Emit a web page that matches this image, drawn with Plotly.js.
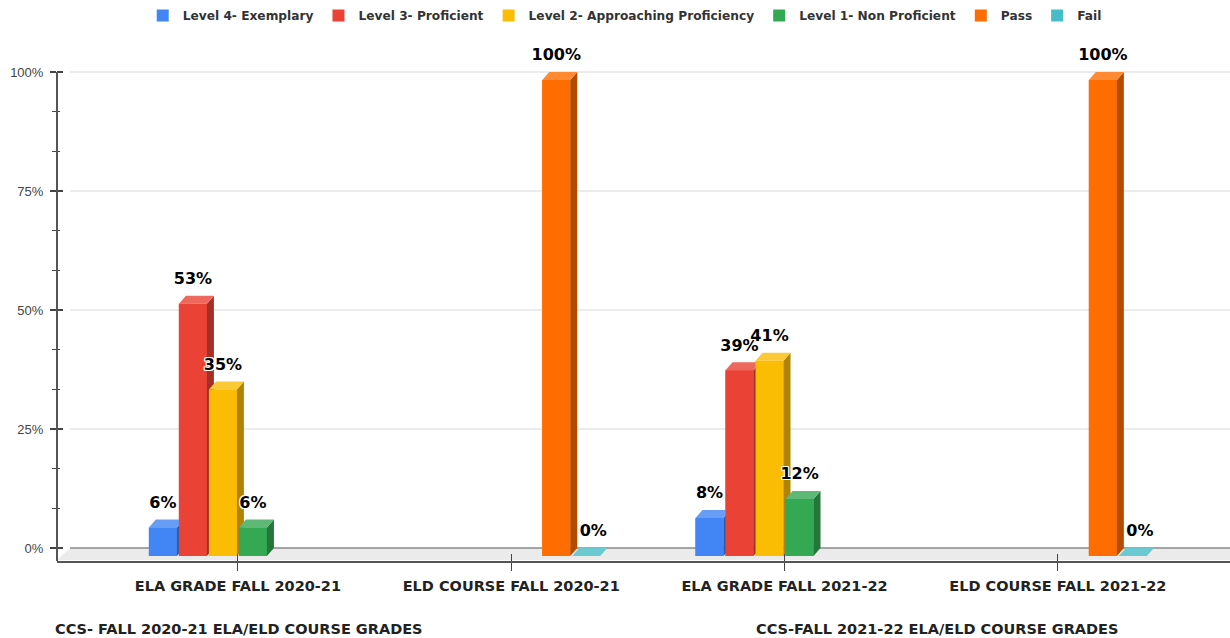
<!DOCTYPE html>
<html>
<head>
<meta charset="utf-8">
<script src="https://cdn.plot.ly/plotly-3.0.1.min.js"></script>
<style>html,body{margin:0;padding:0;background:#fff;}#chart{width:1230px;height:638px;}</style>
</head>
<body>
<div id="chart"></div>
<script>
// ---- data ----
const categories = ["ELA GRADE FALL 2020-21", "ELD COURSE FALL 2020-21", "ELA GRADE FALL 2021-22", "ELD COURSE FALL 2021-22"];
const seriesNames = ["Level 4- Exemplary", "Level 3- Proficient", "Level 2- Approaching Proficiency", "Level 1- Non Proficient", "Pass", "Fail"];
const level4 = [6, null, 8, null];
const level3 = [53, null, 39, null];
const level2 = [35, null, 41, null];
const level1 = [6, null, 12, null];
const pass = [null, 100, null, 100];
const fail = [null, 0, null, 0];
const yTicks = [0, 25, 50, 75, 100];
const footnotes = ["CCS- FALL 2020-21 ELA/ELD COURSE GRADES", "CCS-FALL 2021-22 ELA/ELD COURSE GRADES"];

const seriesValues = [level4, level3, level2, level1, pass, fail];
const frontColors = ['#4285F4', '#EA4335', '#FBBC04', '#34A853', '#FF6D01', '#46BDC6'];
const topColors = ['#689df6', '#ee695d', '#fcc936', '#5db975', '#ff8a34', '#6bcad1'];
const sideColors = ['#2e5dab', '#a42f25', '#b08403', '#24763a', '#b34c01', '#31848b'];

// ---- geometry of bars (shared with layout) ----
const bargap = 0.341, bargroupgap = 0.067;
const nS = seriesValues.length;
const groupW = 1 - bargap;
const slot = groupW / nS;
const frontW = slot * (1 - bargroupgap);
const dx = 0.0256;   // depth offset in x units
const dy = 1.68;     // depth offset in y2 units
const labelLift = 1.6;

const boldFont = 'DejaVu Sans, Verdana, sans-serif';
const traces = [];

// bar traces (legend + base)
seriesValues.forEach((vals, i) => {
  traces.push({
    type: 'bar', name: seriesNames[i],
    x: categories.map((c, j) => j), y: vals,
    xaxis: 'x', yaxis: 'y2',
    marker: {color: frontColors[i], line: {width: 0}},
    hoverinfo: 'skip'
  });
});

// 3D faces drawn over bars, category by category, left to right
const labelX = [], labelY = [], labelT = [];
categories.forEach((c, j) => {
  seriesValues.forEach((vals, i) => {
    const v = vals[j];
    if (v === null || v === undefined) return;
    const x0 = j - groupW / 2 + i * slot + (slot - frontW) / 2;
    const x1 = x0 + frontW;
    const common = {type: 'scatter', mode: 'lines', fill: 'toself', line: {width: 0}, xaxis: 'x', yaxis: 'y2', showlegend: false, hoverinfo: 'skip'};
    if (v > 0) traces.push(Object.assign({}, common, {x: [x0, x1, x1, x0, x0], y: [0, 0, v, v, 0], fillcolor: frontColors[i]}));
    traces.push(Object.assign({}, common, {x: [x1, x1, x1 + dx, x1 + dx, x1], y: [0, v, v + dy, dy, 0], fillcolor: sideColors[i]}));
    traces.push(Object.assign({}, common, {x: [x0, x0 + dx, x1 + dx, x1, x0], y: [v, v + dy, v + dy, v, v], fillcolor: topColors[i]}));
    labelX.push((x0 + x1) / 2 + (v === 0 ? dx : 0));
    labelY.push(v + dy + labelLift);
    labelT.push(v + '%');
  });
});

traces.push({
  type: 'scatter', mode: 'text', x: labelX, y: labelY, text: labelT,
  xaxis: 'x', yaxis: 'y2', textposition: 'top center', showlegend: false, hoverinfo: 'skip', cliponaxis: false,
  textfont: {family: boldFont, size: 16, weight: 'bold', color: '#000',
    shadow: '1px 1px 0 #fff, -1px -1px 0 #fff, 1px -1px 0 #fff, -1px 1px 0 #fff, 0 1px 0 #fff, 0 -1px 0 #fff, 1px 0 0 #fff, -1px 0 0 #fff'}
});

// dummy trace for tick-only overlay axes
traces.push({type: 'scatter', x: [null], y: [null], xaxis: 'x2', yaxis: 'y3', showlegend: false, hoverinfo: 'skip'});

// plot area: top 40px, bottom 561px (521 px tall); 4.76 px per percent
const xRange = [-0.662, 3.630];
const yBack = [-2.731, 106.723];
const yFront = [-1.050, 108.404];

const shapes = [];
// floor
shapes.push({type: 'path', xref: 'paper', yref: 'y', layer: 'below',
  path: 'M 0,-2.52 L 0.0111,0 L 1,0 L 1,-2.52 Z', fillcolor: '#ebebeb', line: {width: 0}});
// gridlines on back wall
yTicks.forEach(t => {
  shapes.push({type: 'line', xref: 'paper', yref: 'y', layer: 'below', x0: 0.0111, x1: 1, y0: t, y1: t,
    line: {color: t === 0 ? '#8a8a8a' : '#d9d9d9', width: t === 0 ? 1.5 : 1}});
});
// left axis line (from the floor up to 100%)
shapes.push({type: 'line', xref: 'paper', yref: 'y', layer: 'above', x0: 0, x1: 0, y0: yBack[0], y1: yTicks[yTicks.length - 1],
  line: {color: '#555', width: 2}});

const layout = {
  width: 1230, height: 638,
  margin: {l: 57, r: 0, t: 40, b: 77, pad: 0},
  paper_bgcolor: '#fff', plot_bgcolor: 'rgba(0,0,0,0)',
  barmode: 'group', bargap: bargap, bargroupgap: bargroupgap,
  showlegend: true,
  legend: {orientation: 'h', x: 0.484, xanchor: 'center', y: 1.075, yanchor: 'top',
    font: {family: boldFont, size: 12.2, weight: 'bold', color: '#333'}, itemclick: false, traceorder: 'normal'},
  xaxis: {range: xRange, tickvals: categories.map((c, j) => j), ticktext: categories,
    showgrid: false, zeroline: false, showline: true, linecolor: '#555', linewidth: 2,
    ticks: 'outside', ticklen: 8, tickcolor: '#444', tickwidth: 1, ticklabelstandoff: 3,
    tickfont: {family: boldFont, size: 14.5, weight: 'bold', color: '#222'}, anchor: 'y', fixedrange: true},
  xaxis2: {range: xRange, overlaying: 'x', anchor: 'y', tickvals: categories.map((c, j) => j), showticklabels: false,
    ticks: 'inside', ticklen: 7, tickcolor: '#444', tickwidth: 1, showgrid: false, zeroline: false, showline: false, fixedrange: true},
  yaxis: {range: yBack, tickvals: yTicks, ticktext: yTicks.map(t => t + '%'),
    showgrid: false, zeroline: false, showline: false,
    ticks: 'outside', ticklen: 6, tickcolor: '#444', tickwidth: 1.5, ticklabelstandoff: 4,
    minor: {dtick: 25 / 3, tick0: 0, ticks: 'outside', ticklen: 4, tickcolor: '#444', tickwidth: 1.5, showgrid: false},
    tickfont: {family: 'Liberation Sans, Arial, sans-serif', size: 13, color: '#444'}, anchor: 'x', fixedrange: true},
  yaxis2: {range: yFront, overlaying: 'y', anchor: 'x', visible: false, fixedrange: true},
  yaxis3: {range: yBack, overlaying: 'y', anchor: 'x', tickvals: yTicks, showticklabels: false,
    ticks: 'inside', ticklen: 6, tickcolor: '#444', tickwidth: 1.5,
    minor: {dtick: 25 / 3, tick0: 0, ticks: 'inside', ticklen: 3, tickcolor: '#444', tickwidth: 1.5, showgrid: false},
    showgrid: false, zeroline: false, showline: false, fixedrange: true},
  shapes: shapes,
  annotations: [
    {text: footnotes[0], xref: 'paper', yref: 'paper', x: -0.003, y: -0.1305, xanchor: 'left', yanchor: 'middle', showarrow: false,
      font: {family: boldFont, size: 14.5, weight: 'bold', color: '#222'}},
    {text: footnotes[1], xref: 'paper', yref: 'paper', x: 0.5945, y: -0.1305, xanchor: 'left', yanchor: 'middle', showarrow: false,
      font: {family: boldFont, size: 14.5, weight: 'bold', color: '#222'}}
  ]
};

Plotly.newPlot('chart', traces, layout, {displayModeBar: false, staticPlot: true});
</script>
</body>
</html>
